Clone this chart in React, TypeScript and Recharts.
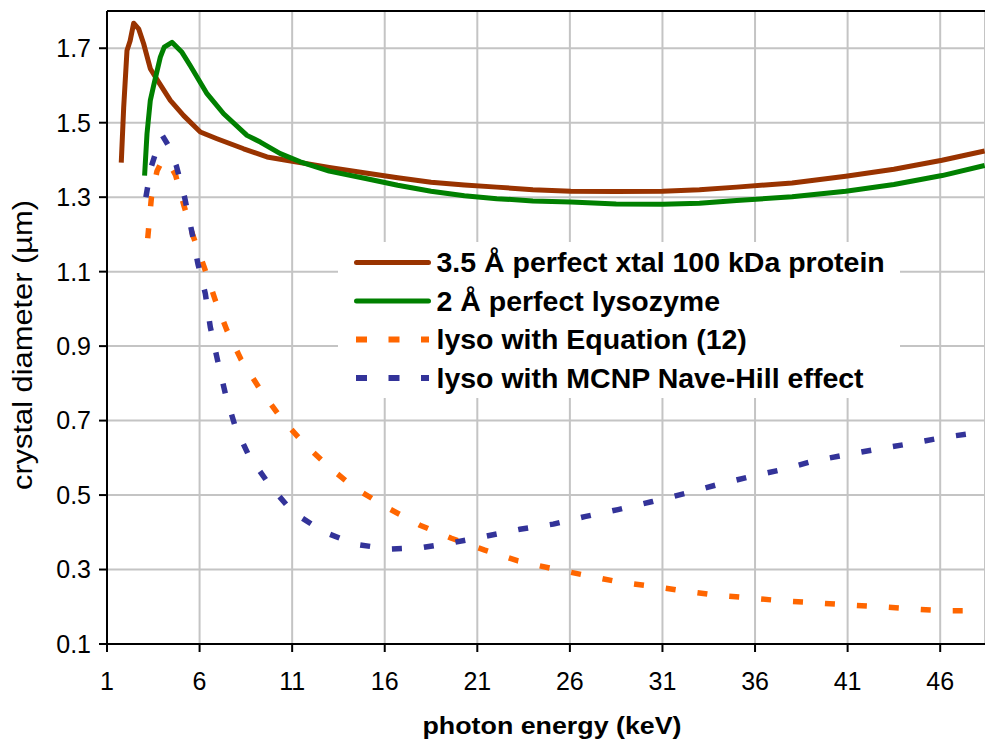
import React from 'react';
import { LineChart, Line, XAxis, YAxis, CartesianGrid, Legend, ReferenceLine } from 'recharts';

// ---- data ----
const seriesNames = [
  '3.5 Å perfect xtal 100 kDa protein',
  '2 Å perfect lysozyme',
  'lyso with Equation (12)',
  'lyso with MCNP Nave-Hill effect',
];

const xtalEnergy = [1.77, 1.9, 2.08, 2.25, 2.44, 2.71, 2.98, 3.34, 3.79, 4.42, 5.14, 6.04, 6.94, 8.38, 9.64, 11.08, 13, 14.97, 16.7, 18.5, 20.3, 22.05, 24, 26.05, 28.5, 31, 33, 35, 38, 40.9, 43.5, 46.1, 48.4];
const xtalDiameter = [1.393, 1.54, 1.694, 1.72, 1.767, 1.752, 1.712, 1.645, 1.609, 1.56, 1.519, 1.475, 1.457, 1.43, 1.408, 1.396, 1.38, 1.365, 1.352, 1.34, 1.333, 1.327, 1.32, 1.316, 1.315, 1.316, 1.32, 1.327, 1.338, 1.356, 1.375, 1.399, 1.424];

const lysoEnergy = [3.03, 3.16, 3.34, 3.52, 3.88, 4.09, 4.51, 5.05, 5.5, 6.4, 7.3, 8.56, 9.28, 10.36, 11.44, 13, 14.97, 16.7, 18.5, 20.3, 22.05, 24, 26.05, 28.5, 31, 33, 35, 38, 40.9, 43.5, 46.1, 48.4];
const lysoDiameter = [1.358, 1.47, 1.56, 1.6, 1.676, 1.703, 1.716, 1.689, 1.653, 1.578, 1.524, 1.466, 1.448, 1.417, 1.395, 1.37, 1.35, 1.332, 1.316, 1.304, 1.296, 1.29, 1.287, 1.282, 1.281, 1.284, 1.291, 1.301, 1.316, 1.334, 1.358, 1.385];

const eqEnergy = [3.2, 3.4, 3.7, 4.0, 4.3, 4.7, 5.14, 5.64, 6.25, 6.85, 7.48, 8.24, 9.24, 10.41, 11.65, 12.97, 14.41, 16.22, 17.9, 19.6, 21.4, 23.2, 25, 26.8, 28.6, 30.3, 32.1, 33.9, 35.7, 37.4, 39.2, 41, 42.8, 44.6, 46.3, 48.4];
const eqDiameter = [1.19, 1.3, 1.37, 1.4, 1.395, 1.36, 1.28, 1.197, 1.112, 1.023, 0.942, 0.864, 0.786, 0.706, 0.638, 0.576, 0.518, 0.464, 0.419, 0.384, 0.352, 0.323, 0.303, 0.285, 0.267, 0.256, 0.243, 0.231, 0.224, 0.216, 0.211, 0.205, 0.2, 0.194, 0.189, 0.189];

const mcnpEnergy = [3.1, 3.38, 3.7, 4.0, 4.3, 4.74, 5.19, 5.59, 5.91, 6.31, 6.58, 6.97, 7.39, 7.93, 8.65, 9.78, 11.02, 12.7, 14.41, 16.22, 18.02, 19.75, 21.5, 23.3, 25.1, 26.8, 28.6, 30.4, 32.2, 33.9, 35.7, 37.5, 39.2, 41, 42.8, 44.6, 46.3, 48.4];
const mcnpDiameter = [1.3, 1.38, 1.43, 1.465, 1.44, 1.385, 1.3, 1.205, 1.121, 1.041, 0.951, 0.862, 0.773, 0.683, 0.607, 0.527, 0.455, 0.401, 0.368, 0.355, 0.359, 0.373, 0.39, 0.408, 0.422, 0.442, 0.461, 0.482, 0.504, 0.527, 0.549, 0.569, 0.592, 0.609, 0.625, 0.64, 0.656, 0.67];

const xTicks = [1, 6, 11, 16, 21, 26, 31, 36, 41, 46];
const yTicks = [0.1, 0.3, 0.5, 0.7, 0.9, 1.1, 1.3, 1.5, 1.7];

// ---- styles ----
const FONT = '"Liberation Sans", Arial, Helvetica, sans-serif';
const seriesColors = ['#993300', '#008000', '#FF6600', '#333399'];
const seriesDashed = [false, false, true, true];

const toPoints = (xs: number[], ys: number[]) => xs.map((x, i) => ({ x, y: ys[i] }));

const LegendBox = (props: any) => {
  const payload = (props.payload || []).slice().sort(
    (a: any, b: any) => seriesNames.indexOf(a.value) - seriesNames.indexOf(b.value)
  );
  return (
    <svg width={562} height={156} style={{ display: 'block' }}>
      <rect x={0} y={0} width={562} height={156} fill="#ffffff" />
      {payload.map((p: any, i: number) => {
        const idx = seriesNames.indexOf(p.value);
        const cy = 20.5 + i * 38.5;
        const dashed = seriesDashed[idx];
        return (
          <g key={p.value}>
            {dashed ? (
              <line x1={18} x2={91} y1={cy} y2={cy} stroke={seriesColors[idx]} strokeWidth={6} strokeDasharray="11 21.5" />
            ) : (
              <line x1={18.5} x2={90.5} y1={cy} y2={cy} stroke={seriesColors[idx]} strokeWidth={5} strokeLinecap="round" />
            )}
            <text x={98.5} y={cy + 9.5} fontFamily={FONT} fontWeight="bold" fontSize={28.5} fill="#000">
              {p.value}
            </text>
          </g>
        );
      })}
    </svg>
  );
};

const YTitle = () => (
  <text
    x={31.5}
    y={345}
    transform="rotate(-90 31.5 345)"
    textAnchor="middle"
    fontFamily={FONT}
    fontSize={27}
    fill="#000"
    textLength={290}
    lengthAdjust="spacingAndGlyphs"
  >
    crystal diameter (µm)
  </text>
);

const XTitle = () => (
  <text
    x={552}
    y={734}
    textAnchor="middle"
    fontFamily={FONT}
    fontWeight="bold"
    fontSize={23}
    fill="#000"
    textLength={259}
    lengthAdjust="spacingAndGlyphs"
  >
    photon energy (keV)
  </text>
);

export default function App() {
  const seriesData = [
    toPoints(xtalEnergy, xtalDiameter),
    toPoints(lysoEnergy, lysoDiameter),
    toPoints(eqEnergy, eqDiameter),
    toPoints(mcnpEnergy, mcnpDiameter),
  ];
  return (
    <div style={{ position: 'absolute', left: 0, top: 0, width: 985, height: 742, background: '#fff' }}>
      <LineChart width={985} height={742} margin={{ top: 11, right: 0, bottom: 0, left: 0 }}>
        <CartesianGrid stroke="#c4c4c4" strokeWidth={2} horizontal vertical />
        <XAxis
          dataKey="x"
          type="number"
          domain={[1, 48.42]}
          ticks={xTicks}
          allowDataOverflow
          height={98}
          tickSize={8}
          tickMargin={20}
          axisLine={{ stroke: '#000', strokeWidth: 2 }}
          tickLine={{ stroke: '#000', strokeWidth: 2 }}
          tick={{ fill: '#000', fontSize: 25, fontFamily: FONT }}
          label={{ content: () => <XTitle /> }}
        />
        <YAxis
          type="number"
          domain={[0.1, 1.8]}
          ticks={yTicks}
          allowDataOverflow
          width={107}
          tickSize={8}
          tickMargin={8}
          tickFormatter={(v: number) => v.toFixed(1)}
          axisLine={{ stroke: '#000', strokeWidth: 2 }}
          tickLine={{ stroke: '#000', strokeWidth: 2 }}
          tick={{ fill: '#000', fontSize: 25, fontFamily: FONT }}
          label={{ content: () => <YTitle /> }}
        />
        <ReferenceLine y={1.8} stroke="#000" strokeWidth={2} />
        {seriesData.map((d, i) => (
          <Line
            key={seriesNames[i]}
            data={d}
            dataKey="y"
            name={seriesNames[i]}
            type="linear"
            stroke={seriesColors[i]}
            strokeWidth={seriesDashed[i] ? 5.5 : 5}
            strokeDasharray={seriesDashed[i] ? '10 22' : undefined}
            strokeLinejoin="round"
            dot={false}
            activeDot={false}
            isAnimationActive={false}
          />
        ))}
        <Legend
          layout="vertical"
          align="center"
          verticalAlign="middle"
          content={<LegendBox />}
          wrapperStyle={{ left: 338, top: 242, width: 562, height: 156 }}
        />
      </LineChart>
    </div>
  );
}
